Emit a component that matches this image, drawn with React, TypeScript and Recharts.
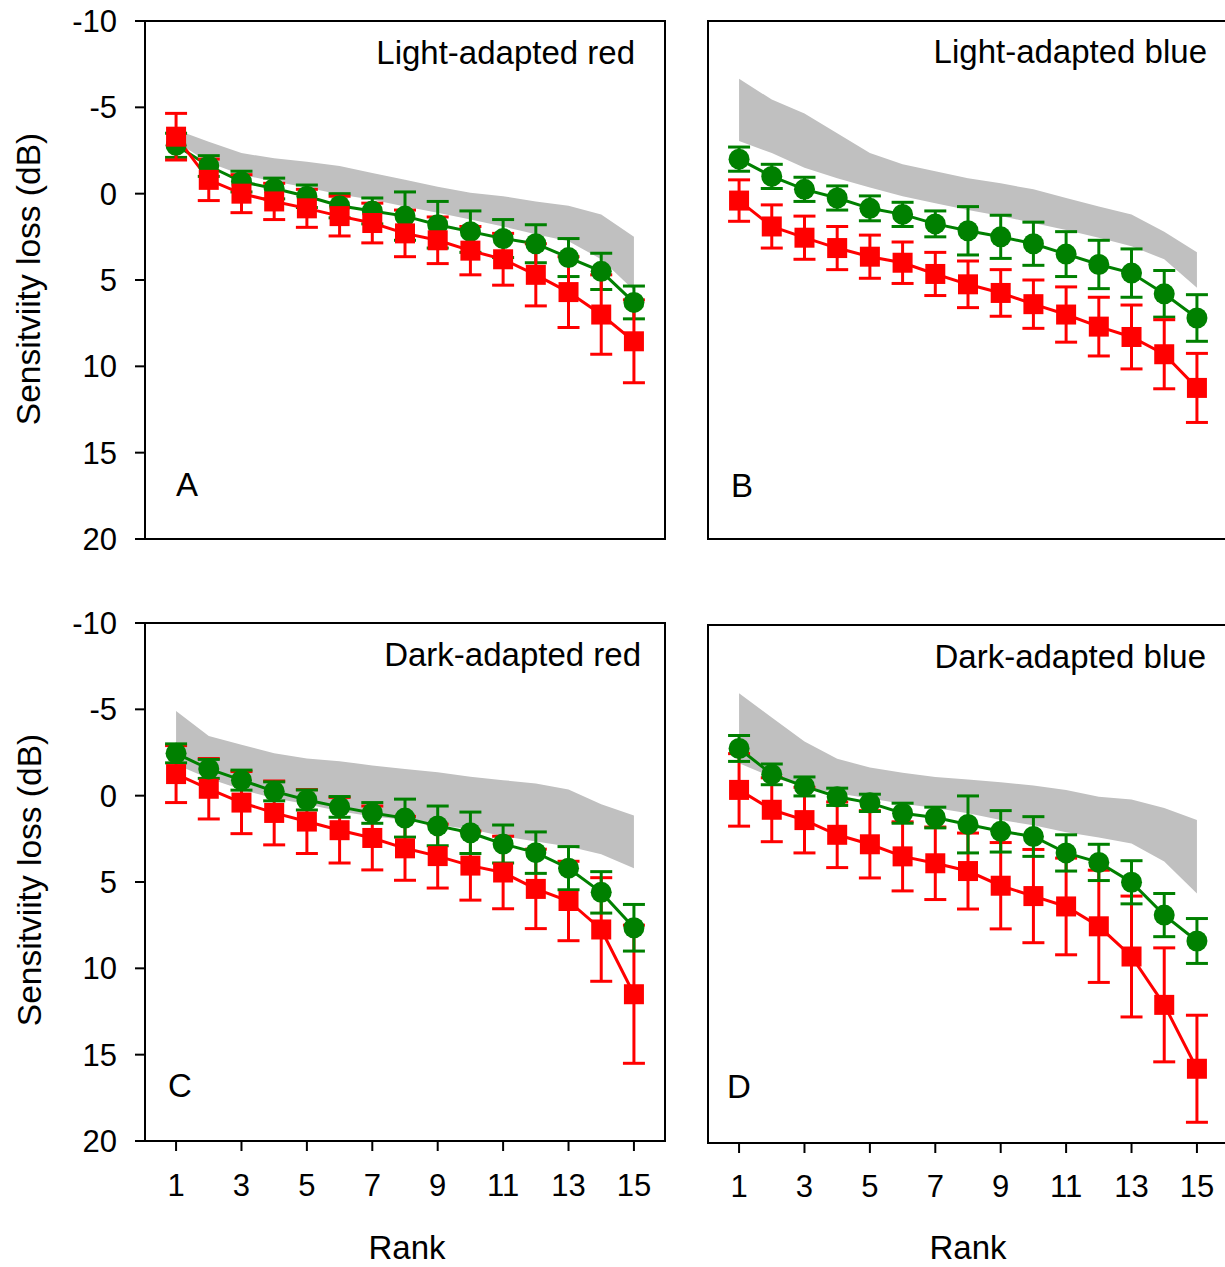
import React from 'react'
import { ComposedChart, Line, Area, ErrorBar, XAxis, YAxis, ReferenceArea } from 'recharts'

const RANKS = [1, 2, 3, 4, 5, 6, 7, 8, 9, 10, 11, 12, 13, 14, 15]
const X_TICKS = [1, 3, 5, 7, 9, 11, 13, 15]
const Y_TICKS = [-10, -5, 0, 5, 10, 15, 20]

// A: light-adapted red
const greenA = [-2.8, -1.6, -0.7, -0.3, 0.15, 0.7, 1.0, 1.3, 1.8, 2.2, 2.6, 2.9, 3.7, 4.5, 6.3]
const greenErrA = [0.7, 0.6, 0.6, 0.6, 0.65, 0.7, 0.75, 1.4, 1.35, 1.2, 1.1, 1.1, 1.1, 1.05, 0.95]
const redA = [-3.3, -0.8, 0.0, 0.45, 0.85, 1.3, 1.7, 2.3, 2.7, 3.3, 3.8, 4.7, 5.7, 7.0, 8.55]
const redErrA = [1.35, 1.2, 1.1, 1.05, 1.1, 1.15, 1.15, 1.35, 1.35, 1.4, 1.5, 1.8, 2.05, 2.3, 2.4]
const bandTopA = [-3.7, -3.0, -2.35, -2.05, -1.85, -1.6, -1.2, -0.8, -0.4, -0.05, 0.15, 0.45, 0.7, 1.2, 2.5]
const bandBotA = [-3.0, -1.8, -1.1, -0.7, -0.35, 0.05, 0.35, 0.75, 1.1, 1.5, 1.9, 2.35, 2.75, 3.8, 5.6]

// B: light-adapted blue
const greenB = [-2.0, -1.0, -0.25, 0.25, 0.85, 1.2, 1.75, 2.15, 2.5, 2.9, 3.5, 4.1, 4.6, 5.8, 7.2]
const greenErrB = [0.7, 0.7, 0.7, 0.7, 0.72, 0.7, 0.75, 1.4, 1.25, 1.25, 1.3, 1.4, 1.4, 1.35, 1.35]
const redB = [0.4, 1.9, 2.55, 3.15, 3.65, 4.0, 4.65, 5.25, 5.75, 6.4, 7.0, 7.7, 8.3, 9.3, 11.25]
const redErrB = [1.2, 1.25, 1.25, 1.25, 1.25, 1.2, 1.25, 1.35, 1.35, 1.4, 1.6, 1.7, 1.85, 2.0, 2.0]
const bandTopB = [-6.65, -5.45, -4.65, -3.5, -2.35, -1.7, -1.3, -0.9, -0.6, -0.25, 0.25, 0.75, 1.2, 2.2, 3.4]
const bandBotB = [-3.05, -2.35, -1.5, -0.9, -0.35, 0.15, 0.55, 0.95, 1.3, 1.7, 2.1, 2.55, 3.05, 3.8, 5.45]

// C: dark-adapted red
const greenC = [-2.45, -1.55, -0.9, -0.25, 0.25, 0.65, 1.0, 1.3, 1.75, 2.15, 2.8, 3.3, 4.2, 5.6, 7.65]
const greenErrC = [0.55, 0.55, 0.58, 0.55, 0.58, 0.6, 0.6, 1.1, 1.15, 1.2, 1.1, 1.2, 1.25, 1.2, 1.35]
const redC = [-1.25, -0.4, 0.4, 1.0, 1.5, 2.0, 2.45, 3.05, 3.5, 4.05, 4.45, 5.4, 6.1, 7.75, 11.5]
const redErrC = [1.65, 1.75, 1.8, 1.85, 1.85, 1.9, 1.85, 1.85, 1.85, 2.0, 2.1, 2.3, 2.3, 3.0, 4.0]
const bandTopC = [-4.9, -3.45, -2.95, -2.45, -2.15, -2.0, -1.75, -1.55, -1.35, -1.1, -0.9, -0.7, -0.35, 0.5, 1.15]
const bandBotC = [-1.8, -1.0, -0.35, 0.15, 0.5, 0.9, 1.2, 1.4, 1.7, 1.95, 2.35, 2.65, 2.95, 3.4, 4.2]

// D: dark-adapted blue
const greenD = [-2.85, -1.35, -0.65, -0.05, 0.3, 0.9, 1.15, 1.55, 1.95, 2.25, 3.2, 3.75, 4.9, 6.8, 8.3]
const greenErrD = [0.75, 0.6, 0.55, 0.5, 0.5, 0.58, 0.6, 1.65, 1.2, 1.15, 1.05, 1.05, 1.25, 1.25, 1.3]
const redD = [-0.45, 0.7, 1.3, 2.15, 2.7, 3.4, 3.8, 4.25, 5.1, 5.7, 6.3, 7.45, 9.2, 12.0, 15.7]
const redErrD = [2.1, 1.85, 1.9, 1.9, 1.95, 2.0, 2.1, 2.2, 2.5, 2.7, 2.8, 3.25, 3.5, 3.3, 3.1]
const bandTopD = [-6.05, -4.65, -3.25, -2.25, -1.75, -1.45, -1.2, -1.05, -0.9, -0.7, -0.45, -0.05, 0.1, 0.6, 1.3]
const bandBotD = [-2.0, -1.2, -0.6, -0.25, 0.05, 0.35, 0.6, 0.9, 1.3, 1.6, 2.0, 2.3, 2.65, 3.7, 5.55]

const FONT = '"Liberation Sans", Arial, sans-serif'
const GREEN = '#008000'
const RED = '#ff0000'
const GRAY = '#c0c0c0'
const Y_AXIS_W = 145
const PLOT_W = 520
const PLOT_H = 518
const X_MIN = 0.05
const X_MAX = 15.95

interface PanelProps {
  plotLeft: number
  plotTop: number
  green: number[]
  greenErr: number[]
  red: number[]
  redErr: number[]
  bandTop: number[]
  bandBot: number[]
  showX: boolean
  showY: boolean
  redOnTop: boolean
  xTickMargin: number
}

function Square(props: any) {
  const { cx, cy, index } = props
  if (cx == null || cy == null) return <g key={`sq${index}`} />
  return <rect key={`sq${index}`} x={cx - 10} y={cy - 10} width={20} height={20} fill={RED} />
}

function Panel(p: PanelProps) {
  const data = RANKS.map((rank, i) => ({
    rank,
    band: [p.bandTop[i], p.bandBot[i]],
    green: p.green[i],
    greenErr: p.greenErr[i],
    red: p.red[i],
    redErr: p.redErr[i],
  }))
  const marginTop = 20
  const xAxisH = 80
  const tickStyle = { fontSize: 31, fill: '#000', fontFamily: FONT }

  const greenLine = (
    <Line
      key="green"
      dataKey="green"
      stroke={GREEN}
      strokeWidth={3}
      dot={{ r: 10.5, fill: GREEN, stroke: 'none' }}
      activeDot={false}
      isAnimationActive={false}
    >
      <ErrorBar dataKey="greenErr" direction="y" width={11} stroke={GREEN} strokeWidth={3} isAnimationActive={false} />
    </Line>
  )
  const redLine = (
    <Line
      key="red"
      dataKey="red"
      stroke={RED}
      strokeWidth={3}
      dot={(props: any) => <Square {...props} key={`sq${props.index}`} />}
      activeDot={false}
      isAnimationActive={false}
    >
      <ErrorBar dataKey="redErr" direction="y" width={11} stroke={RED} strokeWidth={3} isAnimationActive={false} />
    </Line>
  )

  return (
    <div style={{ position: 'absolute', left: p.plotLeft - Y_AXIS_W, top: p.plotTop - marginTop }}>
      <ComposedChart
        width={Y_AXIS_W + PLOT_W + 5}
        height={marginTop + PLOT_H + xAxisH}
        data={data}
        margin={{ top: marginTop, right: 5, bottom: 0, left: 0 }}
      >
        <XAxis
          dataKey="rank"
          type="number"
          domain={[X_MIN, X_MAX]}
          ticks={X_TICKS}
          allowDataOverflow
          height={xAxisH}
          axisLine={{ stroke: '#000', strokeWidth: 2 }}
          tickLine={{ stroke: '#000', strokeWidth: 2 }}
          tickSize={10}
          tickMargin={p.xTickMargin}
          tick={p.showX ? tickStyle : false}
          interval={0}
        />
        <YAxis
          type="number"
          domain={[-10, 20]}
          ticks={Y_TICKS}
          reversed
          allowDataOverflow
          width={Y_AXIS_W}
          axisLine={{ stroke: '#000', strokeWidth: 2 }}
          tickLine={{ stroke: '#000', strokeWidth: 2 }}
          tickSize={10}
          tickMargin={18}
          tick={p.showY ? tickStyle : false}
          interval={0}
        />
        <Area
          dataKey="band"
          type="linear"
          fill={GRAY}
          fillOpacity={1}
          stroke="none"
          dot={false}
          activeDot={false}
          isAnimationActive={false}
        />
        {p.redOnTop ? [greenLine, redLine] : [redLine, greenLine]}
        <ReferenceArea x1={X_MIN} x2={X_MAX} y1={-10} y2={20} fill="none" stroke="#000" strokeWidth={2} />
      </ComposedChart>
    </div>
  )
}

export default function App() {
  const textStyle = { fontFamily: FONT, fill: '#000' }
  return (
    <div
      style={{
        position: 'absolute',
        left: 0,
        top: 0,
        width: 1225,
        height: 1267,
        overflow: 'hidden',
        background: '#fff',
      }}
    >
      <Panel plotLeft={145} plotTop={21} green={greenA} greenErr={greenErrA} red={redA} redErr={redErrA}
        bandTop={bandTopA} bandBot={bandBotA} showX={false} showY redOnTop xTickMargin={24} />
      <Panel plotLeft={708} plotTop={21} green={greenB} greenErr={greenErrB} red={redB} redErr={redErrB}
        bandTop={bandTopB} bandBot={bandBotB} showX={false} showY={false} redOnTop xTickMargin={24} />
      <Panel plotLeft={145} plotTop={623} green={greenC} greenErr={greenErrC} red={redC} redErr={redErrC}
        bandTop={bandTopC} bandBot={bandBotC} showX showY redOnTop={false} xTickMargin={23} />
      <Panel plotLeft={708} plotTop={625} green={greenD} greenErr={greenErrD} red={redD} redErr={redErrD}
        bandTop={bandTopD} bandBot={bandBotD} showX showY={false} redOnTop={false} xTickMargin={22} />

      <svg width={1225} height={1267} style={{ position: 'absolute', left: 0, top: 0, pointerEvents: 'none' }}>
        <text {...textStyle} fontSize={33.5} textAnchor="middle" dominantBaseline="central"
          transform="translate(28,279) rotate(-90)">Sensitviity loss (dB)</text>
        <text {...textStyle} fontSize={33.5} textAnchor="middle" dominantBaseline="central"
          transform="translate(29,880) rotate(-90)">Sensitviity loss (dB)</text>

        <text {...textStyle} fontSize={33} textAnchor="end" x={635} y={64}>Light-adapted red</text>
        <text {...textStyle} fontSize={33} textAnchor="end" x={1207} y={63}>Light-adapted blue</text>
        <text {...textStyle} fontSize={33} textAnchor="end" x={641} y={666}>Dark-adapted red</text>
        <text {...textStyle} fontSize={33} textAnchor="end" x={1206} y={668}>Dark-adapted blue</text>

        <text {...textStyle} fontSize={33} x={176} y={496}>A</text>
        <text {...textStyle} fontSize={33} x={731} y={497}>B</text>
        <text {...textStyle} fontSize={33} x={168} y={1097}>C</text>
        <text {...textStyle} fontSize={33} x={727} y={1098}>D</text>

        <text {...textStyle} fontSize={33} textAnchor="middle" x={407} y={1259}>Rank</text>
        <text {...textStyle} fontSize={33} textAnchor="middle" x={968} y={1259}>Rank</text>
      </svg>
    </div>
  )
}
